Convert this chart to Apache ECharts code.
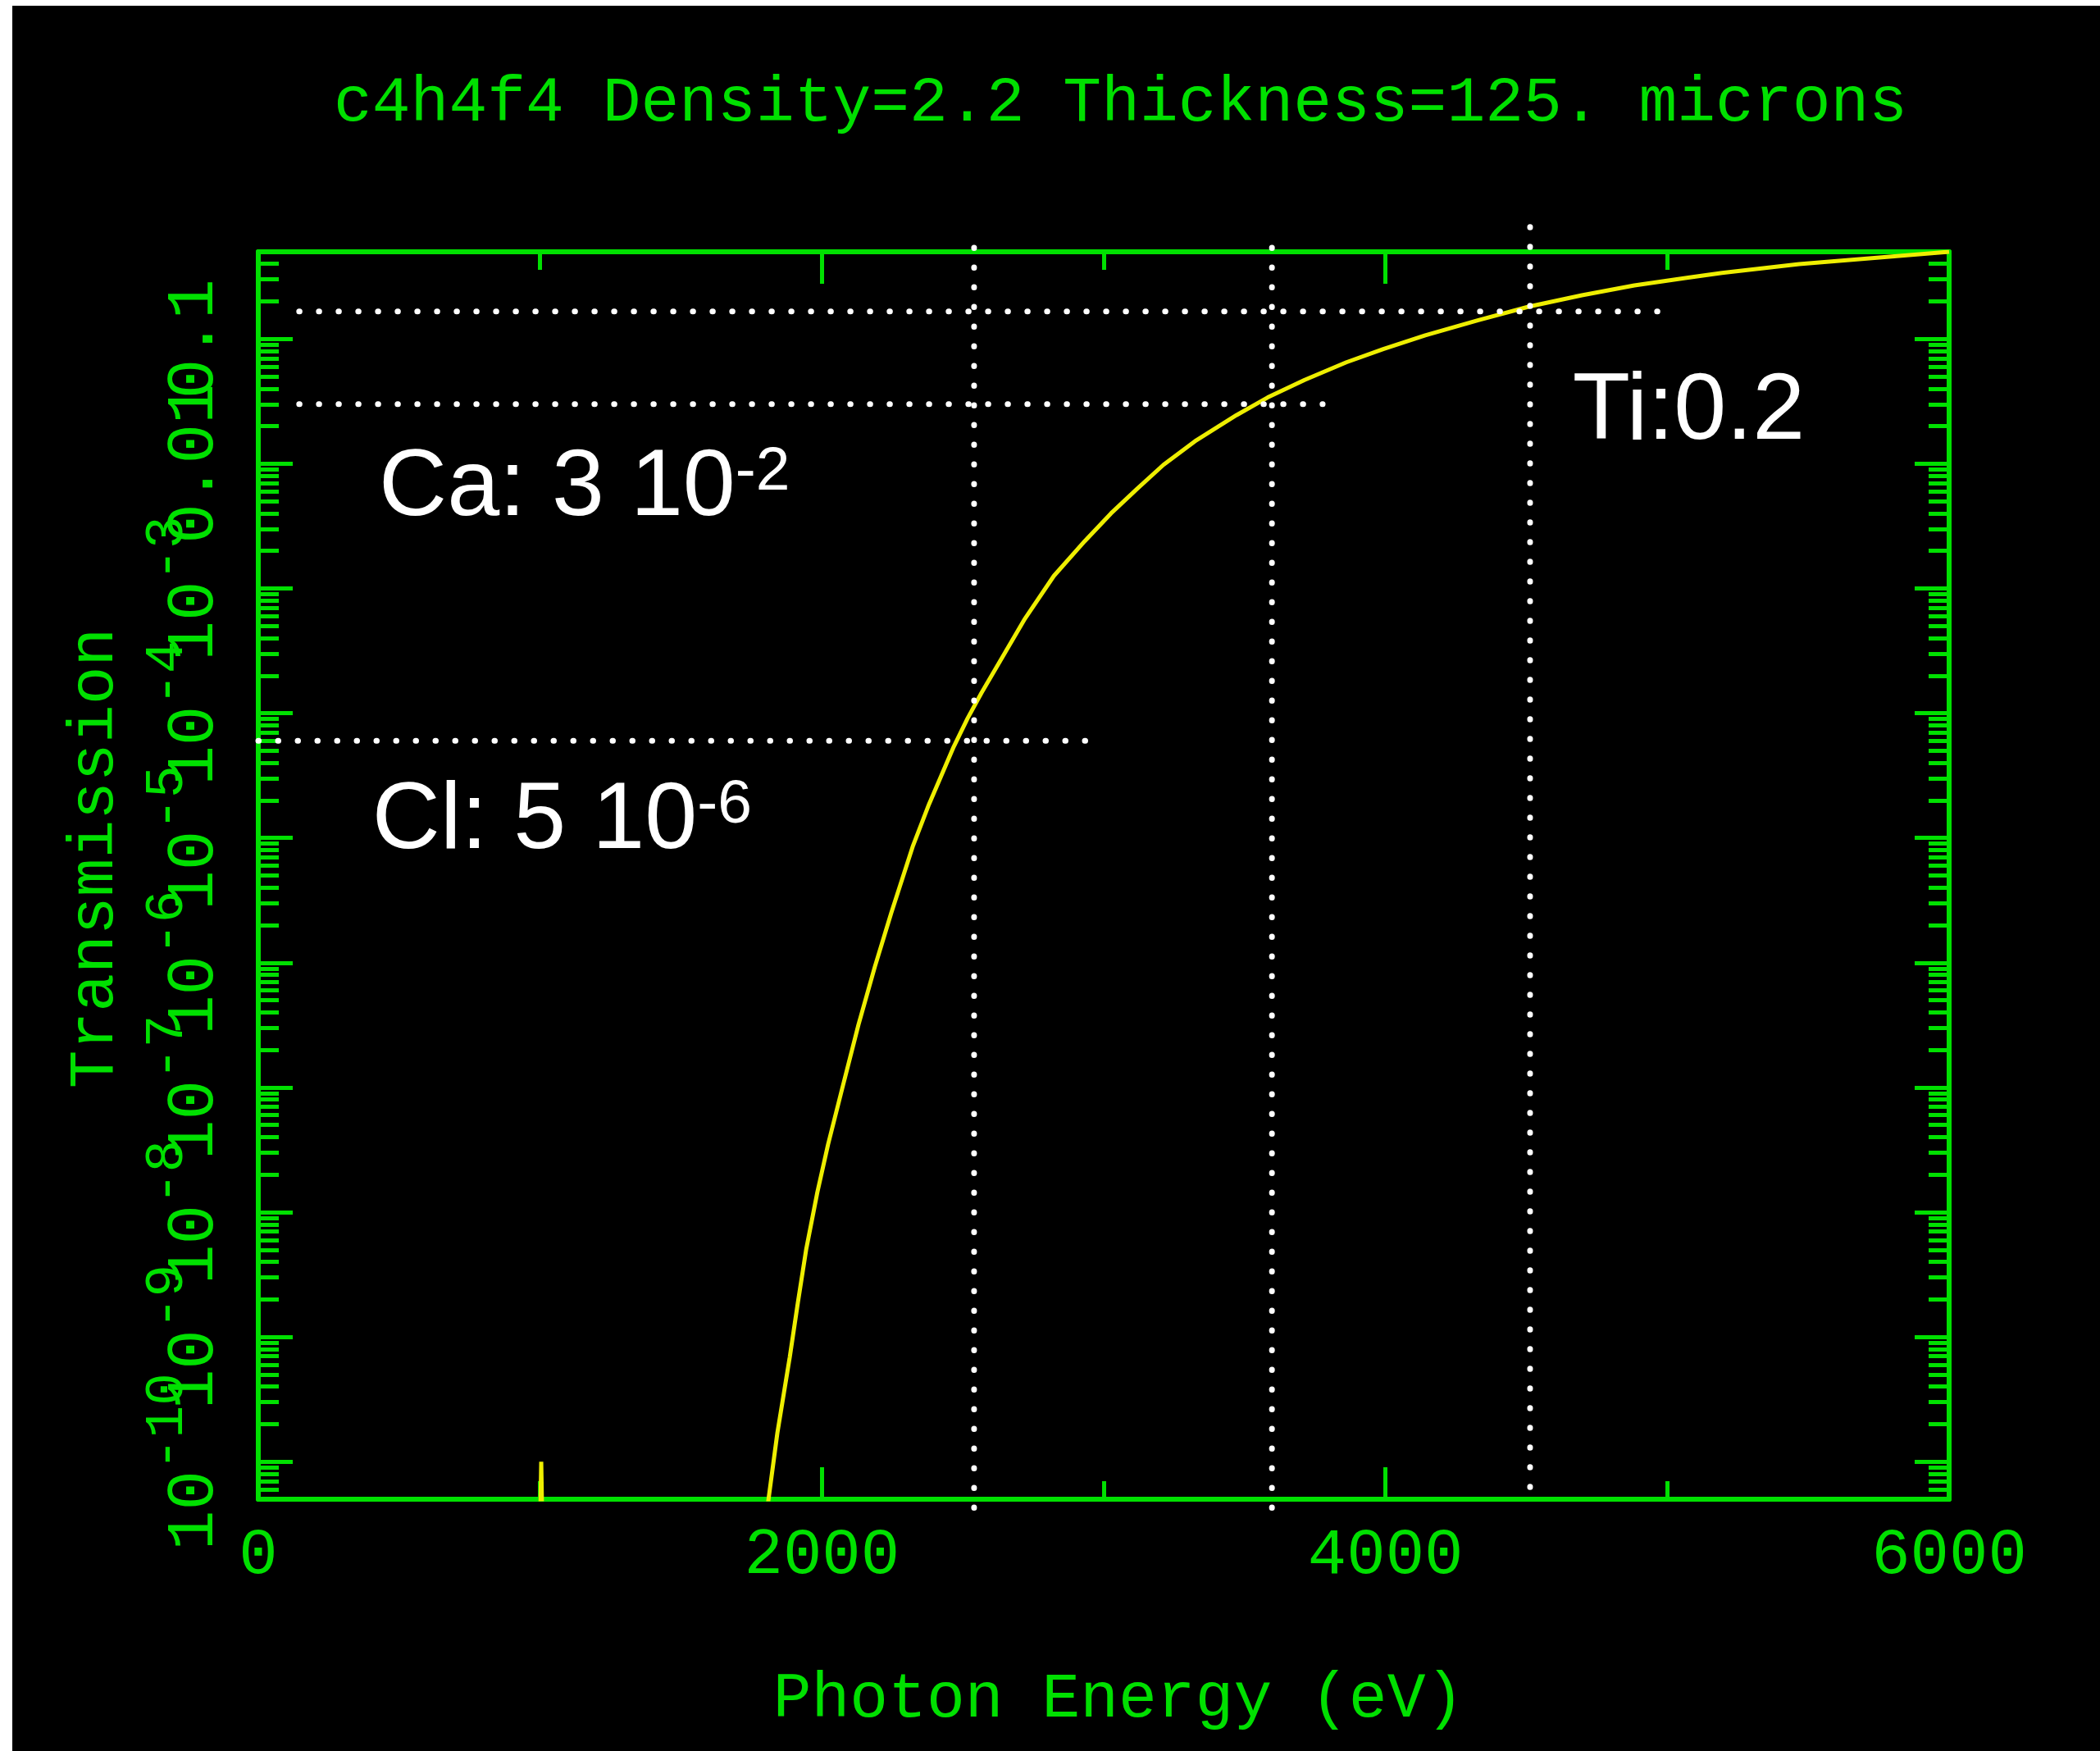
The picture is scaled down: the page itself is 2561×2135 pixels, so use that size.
<!DOCTYPE html>
<html>
<head>
<meta charset="utf-8">
<title>c4h4f4 transmission</title>
<script src="https://cdn.jsdelivr.net/npm/echarts@6/dist/echarts.min.js"></script>
<style>
  html, body { margin: 0; padding: 0; background: #ffffff; }
  #chart { position: absolute; left: 15px; top: 7px; width: 2546px; height: 2128px; background: #000000; }
</style>
</head>
<body>
<div id="chart"></div>
<script>
// Filter transmission curve: photon energy (eV) and transmission.
const energy = [1000, 1004, 1008, 1800, 1810, 1842, 1886, 1915, 1944, 1984,
                2022, 2072, 2130, 2188, 2246, 2322, 2380, 2468, 2517, 2566,
                2721, 2823, 2933, 3026, 3119, 3212, 3323, 3471, 3582, 3713,
                3861, 3992, 4141, 4327, 4510, 4697, 4883, 5069, 5194, 5468,
                5788, 6000];
const transmission = [3e-11, 1.0e-10, 3e-11, 3e-11, 4.9e-11, 1.7e-10, 6.9e-10, 1.9e-9, 5.0e-9, 1.45e-8,
                      3.5e-8, 9.8e-8, 3.2e-7, 9.3e-7, 2.5e-6, 8.5e-6, 1.86e-5, 5.4e-5, 9.1e-5, 1.45e-4,
                      5.75e-4, 1.26e-3, 2.4e-3, 4.0e-3, 6.3e-3, 9.8e-3, 1.51e-2, 2.45e-2, 3.4e-2, 4.7e-2,
                      6.5e-2, 8.3e-2, 0.107, 0.141, 0.182, 0.224, 0.269, 0.309, 0.339, 0.398,
                      0.457, 0.50];

// Emission lines marked with dotted guides.
const lineNames = ['Cl', 'Ca', 'Ti'];
const lineEnergy = [2540, 3597, 4513];
const lineTransmission = [6.0e-5, 0.030, 0.166];
const guideEnergySpan = [[0, 2939], [145, 3777], [145, 4965]];
const guideTransmissionSpan = [[4.0e-11, 0.54], [4.0e-11, 0.54], [6.2e-11, 0.79]];

// Annotation texts ('^' marks an exponent) and their anchors (energy, transmission).
const noteText = ['Cl: 5 10^-6', 'Ca: 3 10^-2', 'Ti:0.2'];
const noteAnchor = [[404, 7.2e-6], [428, 3.36e-3], [4664, 1.38e-2]];

// Axis ticks.
const xTickValues = [0, 2000, 4000, 6000];
const xTickLabels = ['0', '2000', '4000', '6000'];
const yTickValues = [1e-10, 1e-9, 1e-8, 1e-7, 1e-6, 1e-5, 1e-4, 1e-3, 1e-2, 1e-1];
const yTickLabels = ['10^-10', '10^-9', '10^-8', '10^-7', '10^-6', '10^-5', '10^-4', '10^-3', '0.01', '0.1'];

const Y_MIN = 5e-11, Y_MAX = 0.5;
const GREEN = '#00e000';
const YELLOW = '#eeee00';
const AXIS_FONT = 'Liberation Mono';

// Intermediate log ticks (2..9 x 10^n) inside the axis range.
const yMinorTicks = [];
for (let e = -11; e <= -1; e++) {
  for (let k = 2; k <= 9; k++) {
    const v = Number((k * Math.pow(10, e)).toPrecision(3));
    if (v > Y_MIN * 1.0001 && v < Y_MAX * 0.9999) yMinorTicks.push(v);
  }
}
// The decade labels run into each other, so they are spread over two label axes
// (alternate decades) to keep every one of them drawn.
const yLabelsEven = yTickValues.filter((v, i) => i % 2 === 0);
const yLabelsOdd = yTickValues.filter((v, i) => i % 2 === 1);

function toRich(label, base, sup) {
  const i = label.indexOf('^');
  if (i < 0) return '{' + base + '|' + label + '}';
  return '{' + base + '|' + label.slice(0, i) + '}{' + sup + '|' + label.slice(i + 1) + '}';
}

function yLabel(value) {
  for (let i = 0; i < yTickValues.length; i++) {
    if (Math.abs(Math.log10(value) - Math.log10(yTickValues[i])) < 1e-6) {
      return toRich(yTickLabels[i], 'b', 's');
    }
  }
  return '';
}

function xLabel(value) {
  const i = xTickValues.indexOf(value);
  return i < 0 ? '' : xTickLabels[i];
}

const axisLineStyle = { color: GREEN, width: 6 };
const tickLineStyle = { color: GREEN, width: 5 };

function xAxisDef(position, withLabels) {
  return {
    type: 'value', position: position, min: 0, max: 6000, interval: 2000,
    axisLine: { show: true, onZero: false, lineStyle: axisLineStyle },
    axisTick: { show: true, inside: true, length: 39, lineStyle: tickLineStyle },
    minorTick: { show: true, splitNumber: 2, length: 22, lineStyle: tickLineStyle },
    splitLine: { show: false },
    axisLabel: withLabels ? {
      show: true, margin: 30, color: GREEN, fontFamily: AXIS_FONT, fontSize: 79,
      showMinLabel: true, showMaxLabel: true, formatter: xLabel
    } : { show: false },
    name: withLabels ? 'Photon Energy (eV)' : '',
    nameLocation: 'middle', nameGap: 205,
    nameTextStyle: { color: GREEN, fontFamily: AXIS_FONT, fontSize: 78, padding: [0, 0, 0, 36] }
  };
}

// opts: { line, tickValues, tickLength, labelValues, name }
function yAxisDef(position, opts) {
  return {
    type: 'log', logBase: 10, position: position, min: Y_MIN, max: Y_MAX,
    axisLine: { show: !!opts.line, onZero: false, lineStyle: axisLineStyle },
    axisTick: opts.tickValues ? {
      show: true, inside: true, length: opts.tickLength,
      customValues: opts.tickValues, lineStyle: tickLineStyle
    } : { show: false },
    minorTick: { show: false },
    splitLine: { show: false },
    axisLabel: opts.labelValues ? {
      show: true, customValues: opts.labelValues, rotate: 90, margin: 27,
      showMinLabel: true, showMaxLabel: true, hideOverlap: false,
      color: GREEN, fontFamily: AXIS_FONT, fontSize: 81, formatter: yLabel,
      rich: {
        b: { color: GREEN, fontFamily: AXIS_FONT, fontSize: 81, lineHeight: 100 },
        // exponent: raised by unequal top/bottom padding
        s: { color: GREEN, fontFamily: AXIS_FONT, fontSize: 66, lineHeight: 34, padding: [0, 0, 66, 0] }
      }
    } : { show: false },
    name: opts.name || '',
    nameLocation: 'middle', nameGap: 160,
    nameTextStyle: { color: GREEN, fontFamily: AXIS_FONT, fontSize: 78, padding: [0, 0, 0, 42] }
  };
}

const curveData = energy.map((e, i) => [e, transmission[i]]);

const guideSeries = [];
lineNames.forEach((name, i) => {
  const dotted = { color: '#ffffff', width: 7, type: [0.5, 23.5], cap: 'round' };
  guideSeries.push({
    name: name + ' level', type: 'line', xAxisIndex: 0, yAxisIndex: 0,
    data: [[guideEnergySpan[i][0], lineTransmission[i]], [guideEnergySpan[i][1], lineTransmission[i]]],
    symbol: 'none', clip: false, silent: true, lineStyle: dotted, z: 5
  });
  guideSeries.push({
    name: name + ' line', type: 'line', xAxisIndex: 0, yAxisIndex: 0,
    data: [[lineEnergy[i], guideTransmissionSpan[i][1]], [lineEnergy[i], guideTransmissionSpan[i][0]]],
    symbol: 'none', clip: false, silent: true, lineStyle: dotted, z: 5
  });
});

const chart = echarts.init(document.getElementById('chart'), null, { renderer: 'canvas' });

chart.setOption({
  backgroundColor: '#000000',
  animation: false,
  title: {
    text: 'c4h4f4 Density=2.2 Thickness=125. microns',
    left: 392, top: 80, padding: 0,
    textStyle: { color: GREEN, fontFamily: AXIS_FONT, fontSize: 78, fontWeight: 'normal' }
  },
  grid: { left: 300, right: 184, top: 300, bottom: 307, containLabel: false, outerBoundsMode: 'none' },
  xAxis: [xAxisDef('bottom', true), xAxisDef('top', false)],
  yAxis: [
    yAxisDef('left', { line: true, tickValues: yTickValues, tickLength: 42, labelValues: yLabelsEven, name: 'Transmission' }),
    yAxisDef('left', { tickValues: yMinorTicks, tickLength: 25 }),
    yAxisDef('left', { labelValues: yLabelsOdd }),
    yAxisDef('right', { line: true, tickValues: yTickValues, tickLength: 42 }),
    yAxisDef('right', { tickValues: yMinorTicks, tickLength: 25 })
  ],
  series: [{
    name: 'Transmission', type: 'line', xAxisIndex: 0, yAxisIndex: 0,
    data: curveData, symbol: 'none', clip: true, silent: true,
    lineStyle: { color: YELLOW, width: 5 }, z: 3
  }].concat(guideSeries)
});

// White annotations, anchored in data coordinates.
const noteRich = {
  m: { fill: '#ffffff', fontFamily: 'Liberation Sans', fontSize: 115, lineHeight: 115 },
  s: { fill: '#ffffff', fontFamily: 'Liberation Sans', fontSize: 75, lineHeight: 87, verticalAlign: 'top' }
};
const graphics = noteText.map((t, i) => {
  const p = chart.convertToPixel({ xAxisIndex: 0, yAxisIndex: 0 }, noteAnchor[i]);
  return {
    type: 'text', x: p[0], y: p[1] - 41, z: 10, silent: true,
    style: { text: toRich(t, 'm', 's'), rich: noteRich, fill: '#ffffff', align: 'left', verticalAlign: 'middle' }
  };
});
chart.setOption({ graphic: graphics });
</script>
</body>
</html>
